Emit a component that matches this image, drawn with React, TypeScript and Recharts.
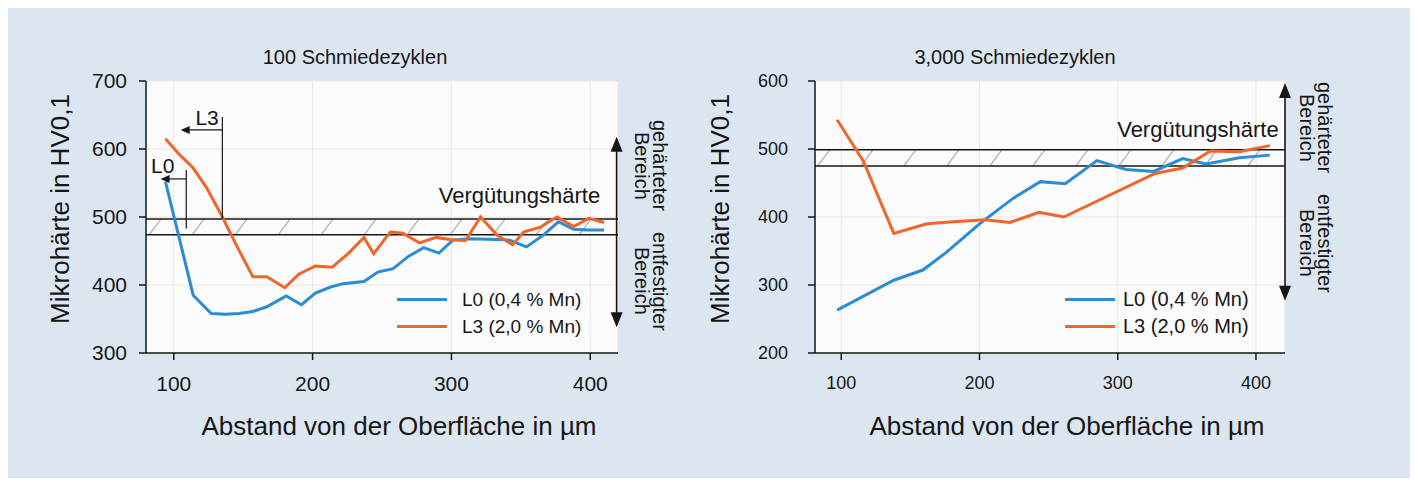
import React from "react";
import {
  LineChart,
  Line,
  XAxis,
  YAxis,
  CartesianGrid,
  ReferenceLine,
  ReferenceArea,
} from "recharts";

const FONT = '"Liberation Sans", Arial, Helvetica, sans-serif';
const BG = "#dce6f1";
const INK = "#161616";
const BLUE = "#2b8cd3";
const ORANGE = "#f0652a";

const SERIES_L0 = "L0 (0,4 % Mn)";
const SERIES_L3 = "L3 (2,0 % Mn)";

const xTicks = [100, 200, 300, 400];
const yTicks100 = [300, 400, 500, 600, 700];
const yTicks3000 = [200, 300, 400, 500, 600];

// 100 Schmiedezyklen
const depthL0_100 = [94, 114, 127, 137, 147, 157, 167, 174, 181, 192, 202, 213, 222, 237, 247, 258, 269, 280, 291, 301, 313, 333, 342, 354, 366, 377, 388, 398, 410];
const hvL0_100 = [552, 385, 358, 357, 358, 361, 368, 376, 384, 371, 388, 397, 402, 405, 419, 424, 442, 455, 447, 466, 468, 467, 466, 456, 473, 493, 482, 481, 481];
const depthL3_100 = [94, 104, 114, 124, 135, 146, 157, 167, 180, 190, 202, 214, 226, 237, 244, 256, 265, 277, 289, 299, 310, 321, 333, 344, 352, 364, 376, 388, 399, 410];
const hvL3_100 = [615, 592, 572, 542, 500, 455, 412, 412, 396, 416, 428, 426, 447, 470, 446, 478, 476, 462, 470, 467, 465, 500, 473, 459, 478, 485, 500, 486, 498, 492];
const band100 = [474, 497];

// 3,000 Schmiedezyklen
const depthL0_3000 = [97, 138, 159, 176, 200, 224, 244, 262, 285, 306, 326, 347, 364, 388, 410];
const hvL0_3000 = [263, 307, 322, 348, 390, 427, 452, 449, 483, 470, 467, 486, 478, 487, 491];
const depthL3_3000 = [97, 116, 138, 162, 181, 204, 222, 243, 261, 327, 347, 367, 388, 410];
const hvL3_3000 = [543, 482, 376, 390, 393, 396, 392, 407, 400, 464, 472, 497, 496, 505];
const band3000 = [475, 499];

type Pt = { x: number; y: number };
const zip = (xs: number[], ys: number[]): Pt[] => xs.map((x, i) => ({ x, y: ys[i] }));

const textShape = (label: string, size: number) => (p: any) => (
  <text
    x={p.x1}
    y={p.y1}
    textAnchor="middle"
    dominantBaseline="central"
    fontSize={size}
    fontFamily={FONT}
    fill={INK}
  >
    {label}
  </text>
);

const doubleArrow = (p: any) => {
  const x = p.x1;
  const top = Math.min(p.y1, p.y2);
  const bot = Math.max(p.y1, p.y2);
  return (
    <g>
      <line x1={x} y1={top + 10} x2={x} y2={bot - 10} stroke={INK} strokeWidth={1.6} />
      <polygon points={`${x},${top} ${x - 6},${top + 15} ${x + 6},${top + 15}`} fill={INK} />
      <polygon points={`${x},${bot} ${x - 6},${bot - 15} ${x + 6},${bot - 15}`} fill={INK} />
    </g>
  );
};

const leftArrow = (p: any) => {
  const tip = Math.min(p.x1, p.x2);
  const end = Math.max(p.x1, p.x2);
  const y = p.y1;
  return (
    <g>
      <line x1={end} y1={y} x2={tip + 6} y2={y} stroke={INK} strokeWidth={1.2} />
      <polygon points={`${tip},${y} ${tip + 9},${y - 4} ${tip + 9},${y + 4}`} fill={INK} />
    </g>
  );
};

interface PanelProps {
  id: string;
  left: number;
  width: number;
  plotWidth: number;
  margin: { top: number; left: number; right: number; bottom: number };
  xDomain: [number, number];
  yDomain: [number, number];
  yTicks: number[];
  tickFont: number;
  yTickMargin: number;
  l0: Pt[];
  l3: Pt[];
  band: number[];
  vLabel: Pt;
  arrow: [Pt, Pt];
  children?: React.ReactNode;
}

function Panel(p: PanelProps) {
  const tickStyle = { fill: INK, fontSize: p.tickFont, fontFamily: FONT };
  return (
    <div style={{ position: "absolute", left: p.left, top: 0 }}>
      <LineChart width={p.width} height={470} margin={p.margin}>
        <defs>
          <pattern
            id={p.id}
            patternUnits="objectBoundingBox"
            width={43 / p.plotWidth}
            height={1}
          >
            <line x1={3} y1={16} x2={15} y2={0} stroke="#9c9c9c" strokeWidth={1} />
          </pattern>
        </defs>
        <CartesianGrid fill="#fbfbfb" fillOpacity={1} stroke="#ebe7e4" strokeWidth={1} />
        <XAxis
          type="number"
          dataKey="x"
          domain={p.xDomain}
          ticks={xTicks}
          allowDataOverflow
          height={30}
          stroke={INK}
          strokeWidth={1.5}
          tick={tickStyle}
          tickSize={7}
          tickMargin={16}
          tickLine={{ stroke: INK, strokeWidth: 1.5 }}
        />
        <YAxis
          type="number"
          domain={p.yDomain}
          ticks={p.yTicks}
          allowDataOverflow
          width={60}
          stroke={INK}
          strokeWidth={1.5}
          tick={tickStyle}
          tickSize={7}
          tickMargin={p.yTickMargin}
          tickLine={{ stroke: INK, strokeWidth: 1.5 }}
        />
        <ReferenceArea
          y1={p.band[0]}
          y2={p.band[1]}
          fill={`url(#${p.id})`}
          fillOpacity={1}
          stroke="none"
        />
        <ReferenceLine y={p.band[0]} stroke={INK} strokeWidth={1.6} />
        <ReferenceLine y={p.band[1]} stroke={INK} strokeWidth={1.6} />
        <Line
          data={p.l0}
          dataKey="y"
          name={SERIES_L0}
          stroke={BLUE}
          strokeWidth={3}
          dot={false}
          isAnimationActive={false}
        />
        <Line
          data={p.l3}
          dataKey="y"
          name={SERIES_L3}
          stroke={ORANGE}
          strokeWidth={3}
          dot={false}
          isAnimationActive={false}
        />
        <ReferenceLine
          segment={[p.vLabel, p.vLabel]}
          shape={textShape("Vergütungshärte", 22)}
          ifOverflow="visible"
        />
        <ReferenceLine segment={p.arrow} shape={doubleArrow} ifOverflow="visible" />
        {p.children}
      </LineChart>
    </div>
  );
}

function LegendBox({ left, top, gap, fontSize }: { left: number; top: number; gap: number; fontSize: number }) {
  const items = [
    { name: SERIES_L0, color: BLUE },
    { name: SERIES_L3, color: ORANGE },
  ];
  return (
    <div style={{ position: "absolute", left, top, fontSize, color: INK }}>
      {items.map((it) => (
        <div key={it.name} style={{ display: "flex", alignItems: "center", height: 27 }}>
          <div style={{ width: 50, height: 3, background: it.color }} />
          <span style={{ marginLeft: gap, whiteSpace: "nowrap" }}>{it.name}</span>
        </div>
      ))}
    </div>
  );
}

function Centered({ cx, cy, size, rotate, children }: { cx: number; cy: number; size: number; rotate?: boolean; children: React.ReactNode }) {
  return (
    <div
      style={{
        position: "absolute",
        left: cx - 250,
        top: cy - 16,
        width: 500,
        height: 32,
        lineHeight: "32px",
        textAlign: "center",
        fontSize: size,
        whiteSpace: "nowrap",
        transform: rotate ? "rotate(-90deg)" : undefined,
      }}
    >
      {children}
    </div>
  );
}

function Side({ left, top, first, second }: { left: number; top: number; first: string; second: string }) {
  return (
    <div
      style={{
        position: "absolute",
        left,
        top,
        width: 36,
        height: 130,
        writingMode: "vertical-rl",
        lineHeight: "18px",
        fontSize: 20,
        textAlign: "center",
        whiteSpace: "nowrap",
      }}
    >
      {first}
      <br />
      {second}
    </div>
  );
}

export default function App() {
  return (
    <div
      style={{
        position: "relative",
        width: 1410,
        height: 470,
        background: BG,
        fontFamily: FONT,
        color: INK,
        overflow: "hidden",
      }}
    >
      <Panel
        id="hatch100"
        left={0}
        width={700}
        plotWidth={472}
        margin={{ top: 73, left: 78, right: 90, bottom: 95 }}
        xDomain={[80, 420]}
        yDomain={[300, 700]}
        yTicks={yTicks100}
        tickFont={21}
        yTickMargin={12}
        l0={zip(depthL0_100, hvL0_100)}
        l3={zip(depthL3_100, hvL3_100)}
        band={band100}
        vLabel={{ x: 349, y: 531 }}
        arrow={[{ x: 419, y: 618 }, { x: 419, y: 338 }]}
      >
        <ReferenceLine segment={[{ x: 135, y: 647 }, { x: 135, y: 497 }]} stroke={INK} strokeWidth={1.2} />
        <ReferenceLine segment={[{ x: 135, y: 628 }, { x: 105, y: 628 }]} shape={leftArrow} />
        <ReferenceLine segment={[{ x: 124, y: 646 }, { x: 124, y: 646 }]} shape={textShape("L3", 21)} />
        <ReferenceLine segment={[{ x: 109, y: 569 }, { x: 109, y: 483 }]} stroke={INK} strokeWidth={1.2} />
        <ReferenceLine segment={[{ x: 109, y: 556 }, { x: 90.5, y: 556 }]} shape={leftArrow} />
        <ReferenceLine segment={[{ x: 92, y: 576 }, { x: 92, y: 576 }]} shape={textShape("L0", 21)} />
      </Panel>
      <Panel
        id="hatch3000"
        left={700}
        width={710}
        plotWidth={470}
        margin={{ top: 73, left: 47, right: 133, bottom: 95 }}
        xDomain={[81, 421]}
        yDomain={[200, 600]}
        yTicks={yTicks3000}
        tickFont={18}
        yTickMargin={20}
        l0={zip(depthL0_3000, hvL0_3000)}
        l3={zip(depthL3_3000, hvL3_3000)}
        band={band3000}
        vLabel={{ x: 358, y: 528 }}
        arrow={[{ x: 421, y: 597 }, { x: 421, y: 277 }]}
      />

      <Centered cx={347} cy={49} size={20}>100 Schmiedezyklen</Centered>
      <Centered cx={1007} cy={49} size={20}>3,000 Schmiedezyklen</Centered>
      <Centered cx={52} cy={201} size={26} rotate>Mikrohärte in HV0,1</Centered>
      <Centered cx={712} cy={201} size={26} rotate>Mikrohärte in HV0,1</Centered>
      <Centered cx={391} cy={418} size={26}>Abstand von der Oberfläche in µm</Centered>
      <Centered cx={1059} cy={418} size={26}>Abstand von der Oberfläche in µm</Centered>

      <Side left={625} top={93} first="gehärteter" second="Bereich" />
      <Side left={625} top={208} first="entfestigter" second="Bereich" />
      <Side left={1290} top={55} first="gehärteter" second="Bereich" />
      <Side left={1290} top={170} first="entfestigter" second="Bereich" />

      <LegendBox left={389} top={278} gap={15} fontSize={19} />
      <LegendBox left={1057} top={278} gap={8} fontSize={20} />
    </div>
  );
}
